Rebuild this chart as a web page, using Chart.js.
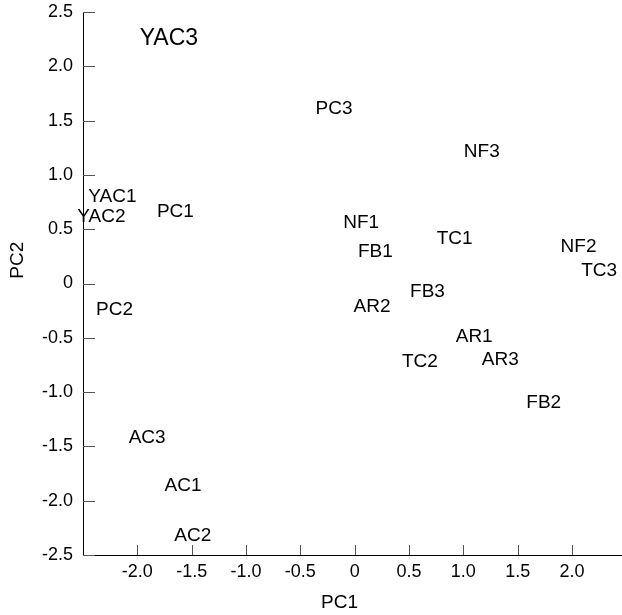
<!DOCTYPE html>
<html>
<head>
<meta charset="utf-8">
<script src="https://cdn.jsdelivr.net/npm/chart.js@4/dist/chart.umd.min.js"></script>
<style>
  html, body { margin: 0; padding: 0; background: #fff; }
  #wrap { width: 622px; height: 615px; }
</style>
</head>
<body>
<div id="wrap"><canvas id="myChart"></canvas></div>
<script>
// sample names and their scores on the two components
const names = ["YAC3", "YAC1", "YAC2", "PC1", "PC2", "AC3", "AC1", "AC2", "PC3", "NF3", "NF1",
  "FB1", "TC1", "NF2", "TC3", "FB3", "AR2", "AR1", "AR3", "TC2", "FB2"];
const pc1 = [-1.71, -2.23, -2.33, -1.65, -2.21, -1.91, -1.58, -1.49, -0.19, 1.17, 0.06,
  0.19, 0.92, 2.06, 2.25, 0.67, 0.16, 1.10, 1.34, 0.60, 1.74];
const pc2 = [2.25, 0.80, 0.61, 0.66, -0.24, -1.42, -1.86, -2.32, 1.61, 1.21, 0.56,
  0.29, 0.41, 0.34, 0.12, -0.08, -0.21, -0.49, -0.70, -0.72, -1.10];

const xTicks = [-2.0, -1.5, -1.0, -0.5, 0, 0.5, 1.0, 1.5, 2.0];
const yTicks = [-2.5, -2.0, -1.5, -1.0, -0.5, 0, 0.5, 1.0, 1.5, 2.0, 2.5];

const FONT = "'Liberation Sans', Arial, Helvetica, sans-serif";
const bigLabel = { YAC3: 23 };

function fmt(v) {
  return v === 0 ? "0" : v.toFixed(1);
}

// draws the names at each point, the inward tick marks and the axis titles
const labelPlugin = {
  id: "labelPlugin",
  afterDatasetsDraw(chart) {
    const ctx = chart.ctx;
    const meta = chart.getDatasetMeta(0);
    ctx.save();
    ctx.fillStyle = "#000";
    ctx.textAlign = "center";
    ctx.textBaseline = "middle";
    meta.data.forEach((pt, i) => {
      const size = bigLabel[names[i]] || 19;
      ctx.font = size + "px " + FONT;
      ctx.fillText(names[i], pt.x, pt.y);
    });

    const area = chart.chartArea;
    const xs = chart.scales.x, ys = chart.scales.y;
    ctx.strokeStyle = "#555";
    ctx.lineWidth = 1;
    ctx.beginPath();
    xTicks.forEach(v => {
      const px = Math.round(xs.getPixelForValue(v)) + 0.5;
      ctx.moveTo(px, area.bottom);
      ctx.lineTo(px, area.bottom - 10);
    });
    yTicks.forEach(v => {
      const py = Math.round(ys.getPixelForValue(v)) + 0.5;
      ctx.moveTo(area.left, py);
      ctx.lineTo(area.left + 12, py);
    });
    ctx.stroke();

    ctx.font = "19px " + FONT;
    ctx.fillText("PC1", area.left + (area.right - area.left) * 0.476, 603);
    ctx.translate(18, area.top + (area.bottom - area.top) * 0.457);
    ctx.rotate(-Math.PI / 2);
    ctx.fillText("PC2", 0, 0);
    ctx.restore();
  }
};

const ctx = document.getElementById("myChart").getContext("2d");
const myChart = new Chart(ctx, {
  type: "scatter",
  data: {
    datasets: [{
      label: "scores",
      data: names.map((n, i) => ({ x: pc1[i], y: pc2[i] })),
      pointRadius: 0,
      pointHoverRadius: 0
    }]
  },
  options: {
    responsive: true,
    maintainAspectRatio: false,
    animation: false,
    events: [],
    layout: { padding: { top: 12, right: 0, left: 0, bottom: 0 } },
    plugins: {
      legend: { display: false },
      tooltip: { enabled: false }
    },
    scales: {
      x: {
        type: "linear",
        min: -2.5,
        max: 2.46,
        afterBuildTicks: s => { s.ticks = xTicks.map(v => ({ value: v })); },
        afterFit: s => { s.height = 60; s.paddingLeft = 0; s.paddingRight = 0; },
        grid: { display: false, drawTicks: false },
        border: { display: true, color: "#000", width: 1 },
        ticks: {
          color: "#000",
          padding: 6,
          font: { family: FONT, size: 18 },
          maxRotation: 0,
          callback: v => fmt(v)
        }
      },
      y: {
        type: "linear",
        min: -2.5,
        max: 2.5,
        afterBuildTicks: s => { s.ticks = yTicks.map(v => ({ value: v })); },
        afterFit: s => { s.width = 83; s.paddingTop = 0; s.paddingBottom = 0; },
        grid: { display: false, drawTicks: false },
        border: { display: true, color: "#000", width: 1 },
        ticks: {
          color: "#000",
          padding: 10,
          font: { family: FONT, size: 18 },
          callback: v => fmt(v)
        }
      }
    }
  },
  plugins: [labelPlugin]
});
</script>
</body>
</html>
